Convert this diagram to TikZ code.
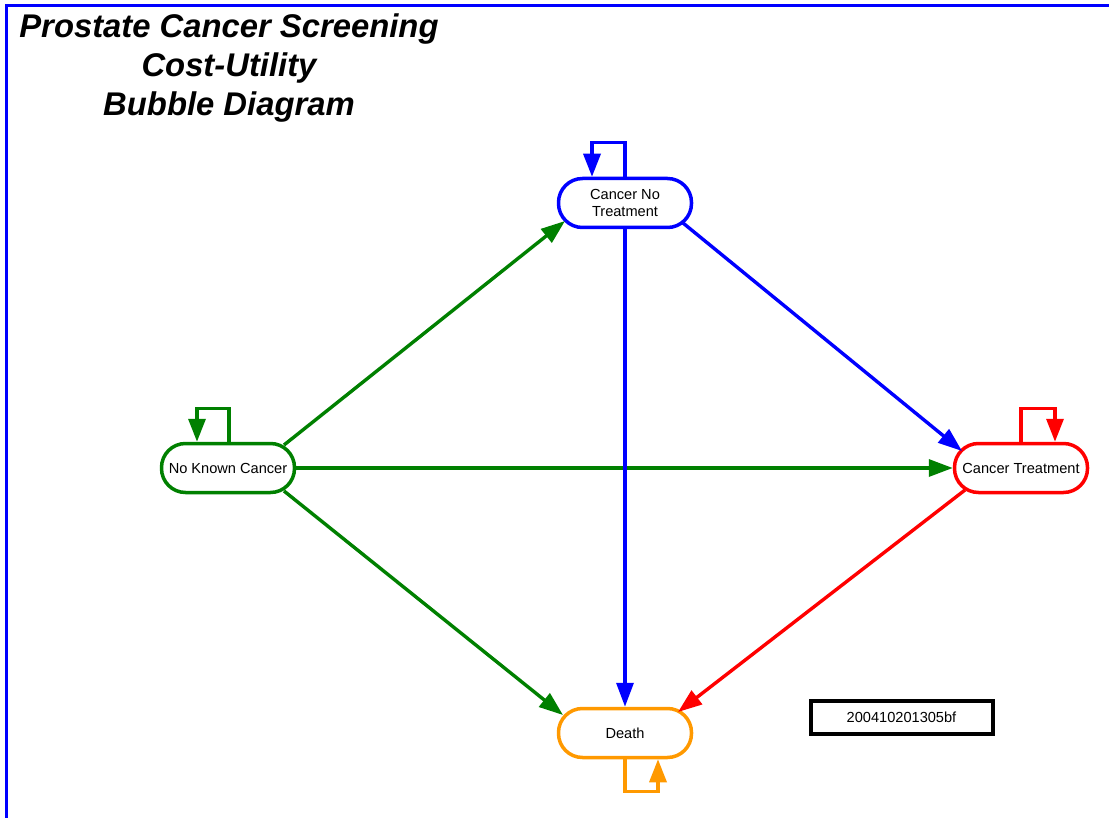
\documentclass[tikz,border=0pt]{standalone}
\usepackage{fontspec}
\setmainfont{Liberation Sans}
\usetikzlibrary{arrows.meta,calc}
\definecolor{cgreen}{RGB}{0,128,0}
\definecolor{cblue}{RGB}{0,0,255}
\definecolor{cred}{RGB}{255,0,0}
\definecolor{corange}{RGB}{255,153,0}
\tikzset{
  bubble/.style={draw, line width=3.5pt, rounded corners=24pt, minimum width=133pt, minimum height=49pt, inner sep=0pt, align=center, fill=white, text=black, font=\fontsize{14.6}{16.5}\selectfont},
  conn/.style={line width=3.4pt, -{Triangle[length=24pt,width=17pt]}},
  selfloop/.style={line width=3.4pt, -{Triangle[length=23pt,width=17pt]}},
}
\begin{document}
\begin{tikzpicture}[x=1pt,y=-1pt]
\useasboundingbox (0,0) rectangle (1109,818);
\draw[cblue, line width=3pt] (6,822) -- (6,6) -- (1113,6);
\node[font=\fontsize{32.8}{39}\selectfont\bfseries\itshape, align=center, anchor=center] (title) at (229,68) {Prostate Cancer Screening\\Cost-Utility\\Bubble Diagram};

\node[bubble, draw=cblue] (cnt) at (625,203) {Cancer No\\Treatment};
\node[bubble, draw=cgreen] (nkc) at (228,468) {No Known Cancer};
\node[bubble, draw=cred] (ct) at (1021,468) {Cancer Treatment};
\node[bubble, draw=corange] (death) at (625,733) {Death};
\node[draw, line width=4pt, minimum width=182pt, minimum height=33pt, font=\fontsize{14.6}{16}\selectfont] (stamp) at (901.5,717) {200410201305bf};

% connectors
\draw[conn, cgreen] ($(nkc.center)+(56,-23)$) -- ($(cnt.center)+(-60,18)$);
\draw[conn, cgreen] (nkc.east) -- (ct.west);
\draw[conn, cgreen] ($(nkc.center)+(56,23)$) -- ($(death.center)+(-62,-18)$);
\draw[conn, cblue] (cnt.south) -- (death.north);
\draw[conn, cblue] ($(cnt.center)+(58,20)$) -- ($(ct.center)+(-59,-17)$);
\draw[conn, cred] ($(ct.center)+(-56,22)$) -- ($(death.center)+(53,-21)$);

% self loops
\draw[selfloop, cblue] (cnt.north) -- ++(0,-34) -| ([xshift=-33pt]cnt.north);
\draw[selfloop, cgreen] ([xshift=1pt]nkc.north) -- ++(0,-33) -| ([xshift=-31pt]nkc.north);
\draw[selfloop, cred] (ct.north) -- ++(0,-33) -| ([xshift=34pt]ct.north);
\draw[selfloop, corange] (death.south) -- ++(0,32) -| ([xshift=33pt]death.south);
\end{tikzpicture}
\end{document}
